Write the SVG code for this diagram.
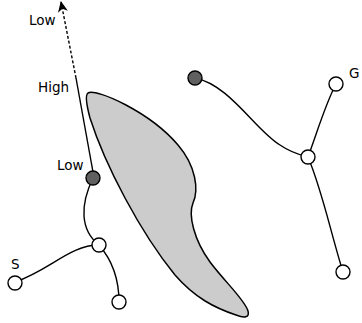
<svg xmlns="http://www.w3.org/2000/svg" width="362" height="323" viewBox="0 0 362 323">
<style>
.edge{fill:none;stroke:#000;stroke-width:1.4}
.w{fill:#fff;stroke:#000;stroke-width:1.4}
.g{fill:#606060;stroke:#000;stroke-width:1.4}
text{font-family:"DejaVu Sans",sans-serif;font-size:13.5px;fill:#000}
</style>
<defs>
<marker id="ah" markerWidth="11" markerHeight="10" refX="10" refY="5" orient="auto" markerUnits="userSpaceOnUse">
<path d="M0,0 L11,5 L0,10 L3,5 Z" fill="#000"/>
</marker>
</defs>
<g id="obstacle">
<path d="M 88,93 C 96,88 150,112 178,145 C 196,166 199,190 193,203 C 188,215 194,240 210,262 C 225,282 245,300 248,311 C 250,318 244,318 236,315 C 215,308 195,298 175,275 C 140,232 105,165 90,118 C 86,103 85,95 88,93 Z" fill="#cccccc" stroke="#000" stroke-width="1.5"/>
</g>
<g id="connectors">
<path class="edge" d="M 93,172 L 76,78"/>
<path class="edge" d="M 76,78 L 61,2" stroke-dasharray="3,2" marker-end="url(#ah)"/>
<path class="edge" d="M 93,178 C 80,205 80,230 99,245"/>
<path class="edge" d="M 99,245 C 70,245 50,270 15,282"/>
<path class="edge" d="M 99,245 C 112,260 119,280 119,302"/>
<path class="edge" d="M 195,78 C 230,85 255,130 280,145 C 290,152 300,155 308,157"/>
<path class="edge" d="M 308,157 C 318,130 325,105 336,84"/>
<path class="edge" d="M 308,157 C 322,190 330,230 343,272"/>
</g>
<g id="labels">
<text x="29" y="25">Low</text>
<text x="38" y="92">High</text>
<text x="57" y="170">Low</text>
<text x="11" y="269" font-size="16.5">S</text>
<text x="349" y="78" font-size="17">G</text>
</g>
<g id="n1"><circle class="g" cx="93" cy="178" r="7"/></g>
<g id="n2"><circle class="w" cx="99" cy="245" r="7"/></g>
<g id="n3"><circle class="w" cx="15" cy="283" r="7"/></g>
<g id="n4"><circle class="w" cx="119" cy="302" r="7"/></g>
<g id="n5"><circle class="g" cx="195" cy="78" r="7"/></g>
<g id="n6"><circle class="w" cx="308" cy="157" r="7"/></g>
<g id="n7"><circle class="w" cx="336" cy="84" r="7"/></g>
<g id="n8"><circle class="w" cx="343" cy="272" r="7"/></g>
</svg>
